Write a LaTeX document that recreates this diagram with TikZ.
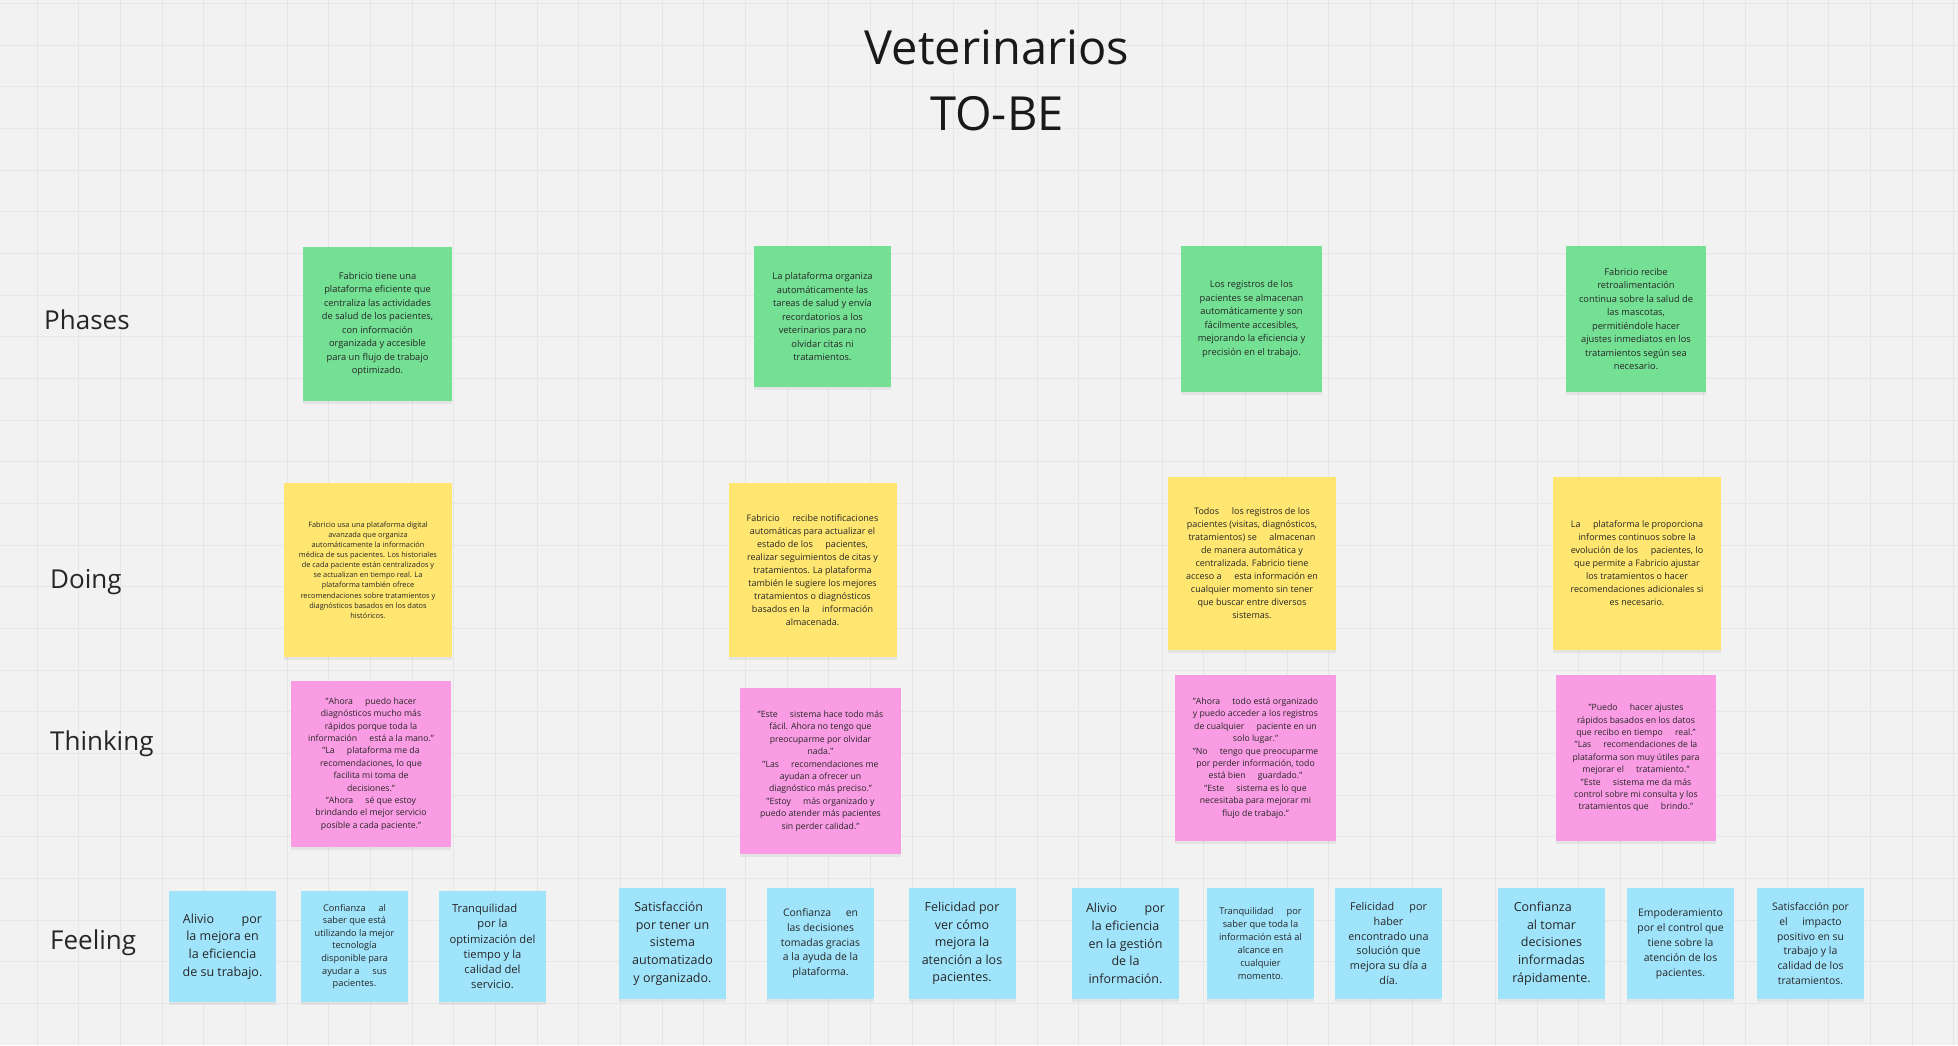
\documentclass[tikz,border=0pt]{standalone}
\usepackage{fontspec}
\setmainfont{Open Sans}
\usetikzlibrary{shadows}

\definecolor{boardbg}{RGB}{242,242,242}
\definecolor{gridcol}{RGB}{230,230,230}
\definecolor{phasegreen}{RGB}{116,224,148}
\definecolor{doingyellow}{RGB}{255,230,112}
\definecolor{thinkpink}{RGB}{250,156,228}
\definecolor{feelblue}{RGB}{160,228,252}
\definecolor{inktext}{RGB}{38,38,38}
\newcommand{\wgap}{\hspace{1.4em}}
\newcommand{\tgap}{\hspace*{1.4em}}
\newcommand{\fbig}{\fontsize{12.5}{17.6}\selectfont}
\newcommand{\fmid}{\fontsize{10.8}{14.8}\selectfont}
\newcommand{\fsmall}{\fontsize{9.2}{12.6}\selectfont}

\begin{document}
\begin{tikzpicture}[x=1pt, y=-1pt, line join=round, line cap=round,
  gridline/.style={draw=gridcol, line width=0.8pt},
  notesize/.style 2 args={minimum width=#1pt, minimum height=#2pt},
  note/.style={inner sep=0pt, align=center, text=inktext,
    drop shadow={shadow xshift=0pt, shadow yshift=-3pt, opacity=0.12}},
  phase/.style={note, fill=phasegreen, font=\fontsize{9.3}{13.5}\selectfont},
  doing/.style={note, fill=doingyellow, notesize={168}{174}, font=\fontsize{9}{13}\selectfont},
  thinking/.style={note, fill=thinkpink, notesize={161}{166}, font=\fontsize{8.7}{12.4}\selectfont},
  feeling/.style={note, fill=feelblue, notesize={107}{111}, font=\fmid},
  rowlabel/.style={anchor=west, inner sep=0pt, text=inktext, font=\fontsize{26}{30}\selectfont}]
\useasboundingbox[fill=boardbg] (0,0) rectangle (1958,1045);
\foreach \gx in {37,78.67,...,1958} \draw[gridline] (\gx,0) -- (\gx,1045);
\foreach \gy in {3.3,44.97,...,1045} \draw[gridline] (0,\gy) -- (1958,\gy);

\node[align=center, inner sep=0pt, text=black!90, font=\fontsize{47}{66}\selectfont] (title) at (997,80) {Veterinarios\\TO-BE};

\node[rowlabel] (lphases) at (44,320) {Phases};
\node[rowlabel] (ldoing) at (50,582) {Doing};
\node[rowlabel] (lthinking) at (50,744) {Thinking};
\node[rowlabel] (lfeeling) at (50,943) {Feeling};

\node[phase, notesize={149}{154}] (ph1) at (377.5,324) {Fabricio tiene una\\plataforma eficiente que\\centraliza las actividades\\de salud de los pacientes,\\con información\\organizada y accesible\\para un flujo de trabajo\\optimizado.};
\node[phase, notesize={137}{141}] (ph2) at (822.5,316.5) {La plataforma organiza\\automáticamente las\\tareas de salud y envía\\recordatorios a los\\veterinarios para no\\olvidar citas ni\\tratamientos.};
\node[phase, notesize={141}{146}] (ph3) at (1251.5,319) {Los registros de los\\pacientes se almacenan\\automáticamente y son\\fácilmente accesibles,\\mejorando la eficiencia y\\precisión en el trabajo.};
\node[phase, notesize={140}{146}] (ph4) at (1636,319) {Fabricio recibe\\retroalimentación\\continua sobre la salud de\\las mascotas,\\permitiéndole hacer\\ajustes inmediatos en los\\tratamientos según sea\\necesario.};

\node[doing, font=\fontsize{7.4}{10.1}\selectfont] (do1) at (368,570) {Fabricio usa una plataforma digital\\avanzada que organiza\\automáticamente la información\\médica de sus pacientes. Los historiales\\de cada paciente están centralizados y\\se actualizan en tiempo real. La\\plataforma también ofrece\\recomendaciones sobre tratamientos y\\diagnósticos basados en los datos\\históricos.};
\node[doing] (do2) at (812.5,570) {Fabricio\wgap recibe notificaciones\\automáticas para actualizar el\\estado de los\wgap pacientes,\\realizar seguimientos de citas y\\tratamientos. La plataforma\tgap\\también le sugiere los mejores\\tratamientos o diagnósticos\\basados en la\wgap información\\almacenada.};
\node[doing, notesize={168}{173}] (do3) at (1252,563.5) {Todos\wgap los registros de los\\pacientes (visitas, diagnósticos,\\tratamientos) se\wgap almacenan\\de manera automática y\\centralizada. Fabricio tiene\\acceso a\wgap esta información en\\cualquier momento sin tener\\que buscar entre diversos\tgap\\sistemas.};
\node[doing, notesize={168}{173}] (do4) at (1637,563.5) {La\wgap plataforma le proporciona\\informes continuos sobre la\\evolución de los\wgap pacientes, lo\\que permite a Fabricio ajustar\\los tratamientos o hacer\tgap\\recomendaciones adicionales si\\es necesario.};

\node[thinking, notesize={160}{166}] (th1) at (371,764) {"Ahora\wgap puedo hacer\\diagnósticos mucho más\\rápidos porque toda la\\información\wgap está a la mano."\\"La\wgap plataforma me da\\recomendaciones, lo que\\facilita mi toma de\tgap\\decisiones."\\"Ahora\wgap sé que estoy\\brindando el mejor servicio\\posible a cada paciente."};
\node[thinking] (th2) at (820.5,771) {"Este\wgap sistema hace todo más\\fácil. Ahora no tengo que\\preocuparme por olvidar\tgap\\nada."\\"Las\wgap recomendaciones me\\ayudan a ofrecer un\\diagnóstico más preciso."\\"Estoy\wgap más organizado y\\puedo atender más pacientes\\sin perder calidad."};
\node[thinking] (th3) at (1255.5,758) {"Ahora\wgap todo está organizado\\y puedo acceder a los registros\\de cualquier\wgap paciente en un\\solo lugar."\\"No\wgap tengo que preocuparme\\por perder información, todo\\está bien\wgap guardado."\\"Este\wgap sistema es lo que\\necesitaba para mejorar mi\\flujo de trabajo."};
\node[thinking, notesize={160}{166}] (th4) at (1636,758) {"Puedo\wgap hacer ajustes\\rápidos basados en los datos\\que recibo en tiempo\wgap real."\\"Las\wgap recomendaciones de la\\plataforma son muy útiles para\\mejorar el\wgap tratamiento."\\"Este\wgap sistema me da más\\control sobre mi consulta y los\\tratamientos que\wgap brindo."};

\node[feeling, font=\fbig] (fe1) at (222.5,946.5) {Alivio\hspace{2.2em}por\\la mejora en\\la eficiencia\\de su trabajo.};
\node[feeling, font=\fsmall] (fe2) at (354.5,946.5) {Confianza\wgap al\\saber que está\\utilizando la mejor\\tecnología\\disponible para\\ayudar a\wgap sus\\pacientes.};
\node[feeling, font=\fontsize{11.2}{15.3}\selectfont] (fe3) at (492.5,946.5) {Tranquilidad\tgap\\por la\\optimización del\\tiempo y la\\calidad del\\servicio.};
\node[feeling, font=\fbig] (fe4) at (672.5,943.5) {Satisfacción\hspace*{0.6em}\\por tener un\\sistema\\automatizado\\y organizado.};
\node[feeling, font=\fontsize{10.4}{14.7}\selectfont] (fe5) at (820.5,943.5) {Confianza\wgap en\\las decisiones\\tomadas gracias\\a la ayuda de la\\plataforma.};
\node[feeling, font=\fbig] (fe6) at (962,943.5) {Felicidad por\\ver cómo\\mejora la\\atención a los\\pacientes.};
\node[feeling, font=\fbig] (fe7) at (1125.5,943.5) {Alivio\hspace{2.2em}por\\la eficiencia\\en la gestión\\de la\\información.};
\node[feeling, font=\fontsize{9.3}{13}\selectfont] (fe8) at (1260.5,943.5) {Tranquilidad\wgap por\\saber que toda la\\información está al\\alcance en\\cualquier\\momento.};
\node[feeling] (fe9) at (1388.5,943.5) {Felicidad\wgap por\\haber\\encontrado una\\solución que\\mejora su día a\\día.};
\node[feeling, font=\fbig] (fe10) at (1551.5,943.5) {Confianza\hspace*{1.4em}\\al tomar\\decisiones\\informadas\\rápidamente.};
\node[feeling, font=\fontsize{10.4}{15}\selectfont] (fe11) at (1680.5,943.5) {Empoderamiento\\por el control que\\tiene sobre la\\atención de los\\pacientes.};
\node[feeling, font=\fontsize{10.4}{14.7}\selectfont] (fe12) at (1810.5,943.5) {Satisfacción por\\el\wgap impacto\\positivo en su\\trabajo y la\\calidad de los\\tratamientos.};
\end{tikzpicture}
\end{document}
